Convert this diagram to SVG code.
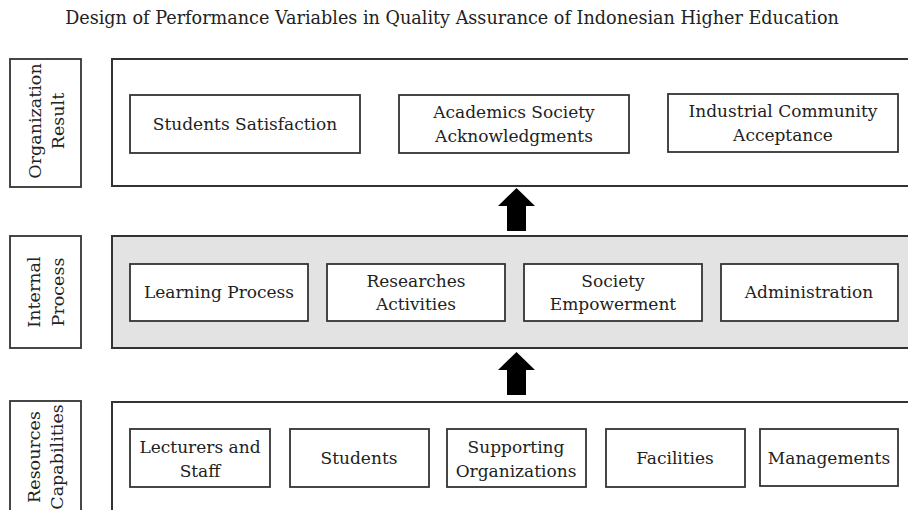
<svg xmlns="http://www.w3.org/2000/svg" width="908" height="510" viewBox="0 0 908 510">
<style>
text{font-family:"DejaVu Serif","Liberation Serif",serif;font-size:17px;fill:#222;text-anchor:middle}
.t{font-size:17.6px}
.v{font-size:17.5px}
.box{fill:#fff;stroke:#333;stroke-width:1.8}
.band{fill:#fff;stroke:#333;stroke-width:2}
.gray{fill:#e3e3e3;stroke:#333;stroke-width:2}
.arrow{fill:#000}
</style>
<rect width="908" height="510" fill="#fff"/>
<text class="t" x="452" y="24">Design of Performance Variables in Quality Assurance of Indonesian Higher Education</text>

<g id="label-org">
<rect class="box" x="10" y="59" width="71" height="128"/>
<text class="v" transform="translate(41,121) rotate(-90)">Organization</text>
<text class="v" transform="translate(64,121) rotate(-90)">Result</text>
</g>
<g id="label-internal">
<rect class="box" x="10" y="236" width="71" height="112"/>
<text class="v" transform="translate(40,292) rotate(-90)">Internal</text>
<text class="v" transform="translate(64,292) rotate(-90)">Process</text>
</g>
<g id="label-resources">
<rect class="box" x="10" y="401" width="71" height="130"/>
<text class="v" transform="translate(40,457) rotate(-90)">Resources</text>
<text class="v" transform="translate(63,457) rotate(-90)">Capabilities</text>
</g>

<g id="band-org"><rect class="band" x="112" y="59" width="820" height="127"/></g>
<g id="band-internal"><rect class="gray" x="112" y="236" width="820" height="112"/></g>
<g id="band-resources"><rect class="band" x="112" y="402" width="820" height="130"/></g>

<g id="students-satisfaction"><rect class="box" x="130" y="95" width="230" height="58"/><text x="245" y="130">Students Satisfaction</text></g>
<g id="academics"><rect class="box" x="399" y="95" width="230" height="58"/><text x="514" y="118">Academics Society</text><text x="514" y="142">Acknowledgments</text></g>
<g id="industrial"><rect class="box" x="668" y="94" width="230" height="58"/><text x="783" y="117">Industrial Community</text><text x="783" y="141">Acceptance</text></g>

<g id="learning"><rect class="box" x="130" y="264" width="178" height="57"/><text x="219" y="298">Learning Process</text></g>
<g id="researches"><rect class="box" x="327" y="264" width="178" height="57"/><text x="416" y="287">Researches</text><text x="416" y="310">Activities</text></g>
<g id="society"><rect class="box" x="524" y="264" width="178" height="57"/><text x="613" y="287">Society</text><text x="613" y="310">Empowerment</text></g>
<g id="administration"><rect class="box" x="721" y="264" width="177" height="57"/><text x="809" y="298">Administration</text></g>

<g id="lecturers"><rect class="box" x="130" y="429" width="140" height="58"/><text x="200" y="453">Lecturers and</text><text x="200" y="477">Staff</text></g>
<g id="students"><rect class="box" x="290" y="429" width="139" height="58"/><text x="359" y="464">Students</text></g>
<g id="supporting"><rect class="box" x="447" y="429" width="139" height="58"/><text x="516" y="453">Supporting</text><text x="516" y="477">Organizations</text></g>
<g id="facilities"><rect class="box" x="606" y="429" width="139" height="58"/><text x="675" y="464">Facilities</text></g>
<g id="managements"><rect class="box" x="760" y="429" width="138" height="57"/><text x="829" y="464">Managements</text></g>

<g id="connectors">
<polygon class="arrow" points="516.5,188 535,206 526,206 526,231 507,231 507,206 498,206"/>
<polygon class="arrow" points="516.5,352 535,370 526,370 526,395 507,395 507,370 498,370"/>
</g>
</svg>
